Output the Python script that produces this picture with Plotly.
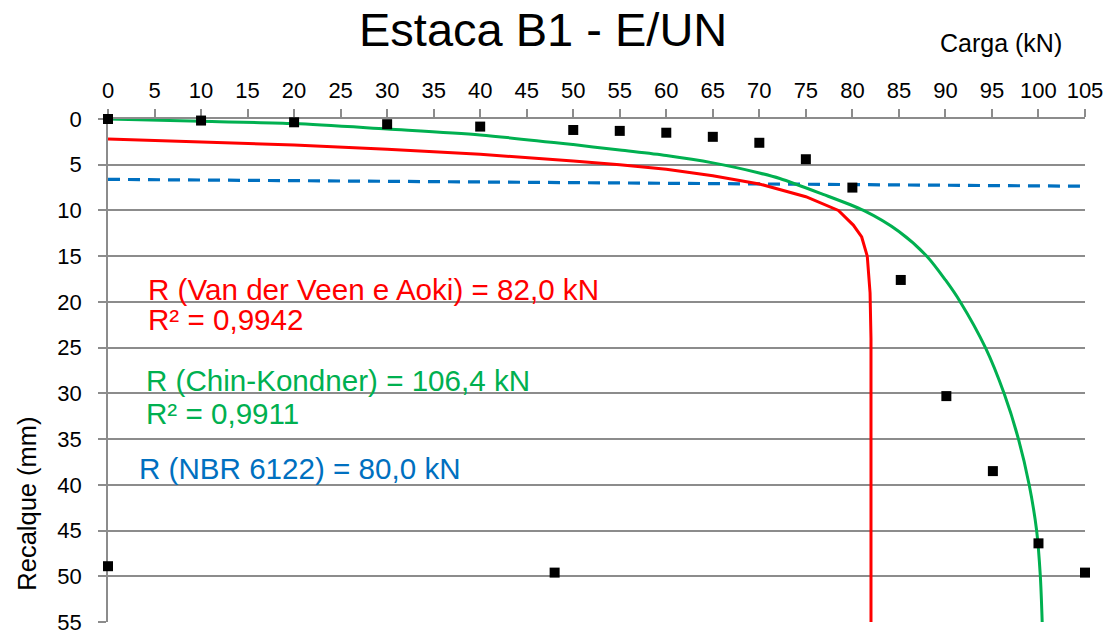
import plotly.graph_objects as go

# Load test measurements: load (kN) vs settlement (mm)
carga_ensaio = [0, 10, 20, 30, 40, 50, 55, 60, 65, 70, 75, 80, 85.2, 90.1, 95.1, 100, 105, 0, 48]
recalque_ensaio = [0, 0.17, 0.36, 0.57, 0.83, 1.2, 1.3, 1.5, 1.95, 2.6, 4.4, 7.5, 17.6, 30.3, 38.5, 46.4, 49.6, 48.9, 49.6]

# Van der Veen / Aoki extrapolated curve
carga_vdv = [0, 10, 20, 30, 40, 50, 55, 60, 65, 70, 75, 78.5, 80.1, 81.0, 81.6, 81.9, 82.0, 82.0]
recalque_vdv = [2.2, 2.5, 2.85, 3.3, 3.85, 4.6, 5.0, 5.5, 6.2, 7.1, 8.5, 10.0, 11.6, 12.9, 15.0, 19.0, 24.0, 55.0]

# Chin-Kondner extrapolated curve
carga_chin = [0, 10, 20, 30, 40, 50, 55, 60, 65, 70, 72.2, 76.5, 81.2, 85, 88.0, 90.0, 91.6,
              94.3, 96.3, 97.85, 99.0, 99.8, 100.2, 100.4]
recalque_chin = [0, 0.25, 0.5, 1.1, 1.75, 2.8, 3.4, 4.0, 4.8, 5.9, 6.5, 8.1, 10, 12.3, 15, 17.6, 20,
                 25, 30, 35, 40, 45, 50, 55]

# NBR 6122 rupture line
carga_nbr = [0, 105]
recalque_nbr = [6.6, 7.35]

x_ticks = list(range(0, 106, 5))
y_ticks = list(range(0, 56, 5))

VERMELHO = "#FF0000"
VERDE = "#00B050"
AZUL = "#0070C0"
GRADE = "#8C8C8C"
FONTE = "Liberation Sans, Arial, sans-serif"

fig = go.Figure()

fig.add_trace(go.Scatter(
    x=carga_nbr, y=recalque_nbr, mode="lines",
    line=dict(color=AZUL, width=3.2, dash="12px,8px"),
    showlegend=False, hoverinfo="skip",
))
fig.add_trace(go.Scatter(
    x=carga_vdv, y=recalque_vdv, mode="lines",
    line=dict(color=VERMELHO, width=3),
    showlegend=False,
))
fig.add_trace(go.Scatter(
    x=carga_chin, y=recalque_chin, mode="lines",
    line=dict(color=VERDE, width=3, shape="spline", smoothing=0.8),
    showlegend=False,
))
fig.add_trace(go.Scatter(
    x=carga_ensaio, y=recalque_ensaio, mode="markers",
    marker=dict(symbol="square", size=10, color="black"),
    cliponaxis=False, showlegend=False,
))

anot_font = 29.6
annotations = [
    dict(x=4.1, y=18.6, text="R (Van der Veen e Aoki) = 82,0 kN", font=dict(color=VERMELHO, size=anot_font)),
    dict(x=4.1, y=21.9, text="R² = 0,9942", font=dict(color=VERMELHO, size=anot_font)),
    dict(x=3.9, y=28.6, text="R (Chin-Kondner) = 106,4 kN", font=dict(color=VERDE, size=anot_font)),
    dict(x=3.9, y=32.2, text="R² = 0,9911", font=dict(color=VERDE, size=anot_font)),
    dict(x=3.1, y=38.2, text="R (NBR 6122) = 80,0 kN", font=dict(color=AZUL, size=anot_font)),
]
for a in annotations:
    a.update(xref="x", yref="y", xanchor="left", yanchor="middle", showarrow=False)
    a["font"]["family"] = FONTE

annotations += [
    dict(x=0.445, y=1.177, xref="paper", yref="paper", text="Estaca B1 - E/UN",
         showarrow=False, xanchor="center", yanchor="middle",
         font=dict(size=47, color="black", family=FONTE)),
    dict(x=0.914, y=1.151, xref="paper", yref="paper", text="Carga (kN)",
         showarrow=False, xanchor="center", yanchor="middle",
         font=dict(size=25, color="black", family=FONTE)),
    dict(x=-0.083, y=0.235, xref="paper", yref="paper", text="Recalque (mm)",
         showarrow=False, xanchor="center", yanchor="middle", textangle=-90,
         font=dict(size=25.5, color="black", family=FONTE)),
]

fig.update_layout(
    width=1110, height=636,
    margin=dict(l=108, r=25, t=119, b=14, autoexpand=False),
    paper_bgcolor="white", plot_bgcolor="white",
    font=dict(family=FONTE, color="black"),
    annotations=annotations,
    xaxis=dict(
        side="top", range=[0, 105], tickvals=x_ticks,
        ticks="outside", ticklen=8, tickcolor=GRADE, tickwidth=1.5,
        showline=True, linecolor=GRADE, linewidth=1.5,
        showgrid=False, zeroline=False, automargin=False,
        tickfont=dict(size=22, color="black"),
        ticklabelstandoff=2, layer="below traces",
    ),
    yaxis=dict(
        range=[55, 0], tickvals=y_ticks,
        ticks="outside", ticklen=8, tickcolor=GRADE, tickwidth=1.5,
        showline=True, linecolor=GRADE, linewidth=1.5,
        showgrid=True, gridcolor=GRADE, gridwidth=1.5,
        zeroline=False, automargin=False,
        tickfont=dict(size=22, color="black"),
        ticklabelstandoff=12, layer="below traces",
    ),
)

fig.write_html("out.html")
